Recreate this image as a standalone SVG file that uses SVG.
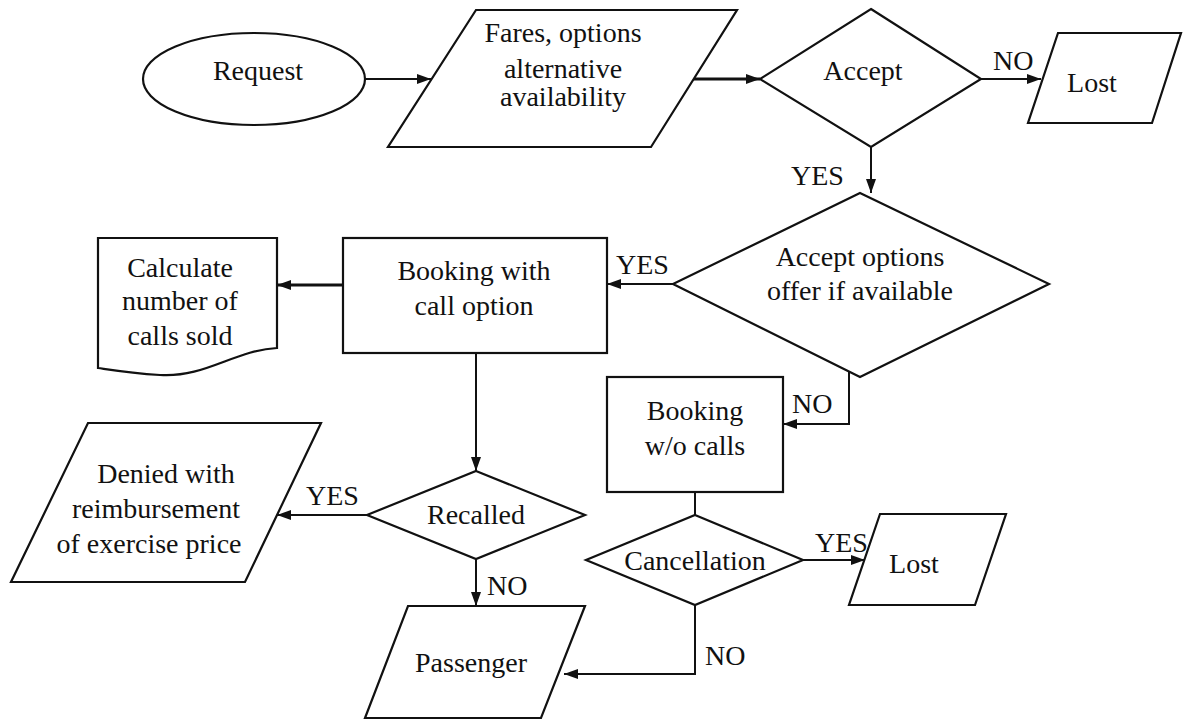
<svg xmlns="http://www.w3.org/2000/svg" width="1183" height="720" viewBox="0 0 1183 720">
<style>
.s{fill:#fff;stroke:#111;stroke-width:2.2;stroke-linejoin:miter}
.t{font-family:"Liberation Serif","Times New Roman",serif;font-size:28px;fill:#111;text-anchor:middle}
.l{font-family:"Liberation Serif","Times New Roman",serif;font-size:28px;fill:#111}
.c{fill:none;stroke:#111;stroke-width:2}
.k{fill:none;stroke:#111;stroke-width:3.2}
</style>
<defs>
<marker id="ah" viewBox="0 0 14 10" refX="14" refY="5" markerWidth="14" markerHeight="10" markerUnits="userSpaceOnUse" orient="auto"><path d="M0,0 L14,5 L0,10 Z" fill="#111"/></marker>
</defs>
<rect width="1183" height="720" fill="#fff"/>
<g id="connectors">
<path class="c" d="M365,79 H431" marker-end="url(#ah)"/>
<path class="k" d="M693,79 H760" marker-end="url(#ah)"/>
<path class="c" d="M981,79 H1041" marker-end="url(#ah)"/>
<path class="c" d="M871,147 V193" marker-end="url(#ah)"/>
<path class="c" d="M673,284 H607" marker-end="url(#ah)"/>
<path class="c" d="M849,372 V424 H783" marker-end="url(#ah)"/>
<path class="k" d="M343,285 H277" marker-end="url(#ah)"/>
<path class="c" d="M476,353 V471" marker-end="url(#ah)"/>
<path class="c" d="M367,515 H277" marker-end="url(#ah)"/>
<path class="c" d="M476,559 V606" marker-end="url(#ah)"/>
<path class="c" d="M695,492 V515"/>
<path class="c" d="M803,560 H865" marker-end="url(#ah)"/>
<path class="c" d="M695,605 V674 H564" marker-end="url(#ah)"/>
<text class="l" x="993" y="70">NO</text>
<text class="l" x="791" y="185">YES</text>
<text class="l" x="616" y="274">YES</text>
<text class="l" x="792" y="413">NO</text>
<text class="l" x="306" y="505">YES</text>
<text class="l" x="487" y="595">NO</text>
<text class="l" x="815" y="552">YES</text>
<text class="l" x="705" y="665">NO</text>
</g>
<g id="request">
<ellipse class="s" cx="254" cy="79" rx="111" ry="46"/>
<text class="t" x="258" y="80">Request</text>
</g>
<g id="fares">
<polygon class="s" points="476,10 737,10 651,147 388,147"/>
<text class="t" x="563" y="42">Fares, options</text>
<text class="t" x="563" y="78">alternative</text>
<text class="t" x="563" y="106">availability</text>
</g>
<g id="accept">
<polygon class="s" points="871,9 981,79 871,147 760,79"/>
<text class="t" x="863" y="80">Accept</text>
</g>
<g id="lost1">
<polygon class="s" points="1058,33 1181,33 1152,123 1028,123"/>
<text class="t" x="1092" y="92">Lost</text>
</g>
<g id="accept-options">
<polygon class="s" points="860,193 1049,284 860,377 673,284"/>
<text class="t" x="860" y="266">Accept options</text>
<text class="t" x="860" y="300">offer if available</text>
</g>
<g id="booking-call">
<rect class="s" x="343" y="238" width="264" height="115"/>
<text class="t" x="474" y="280">Booking with</text>
<text class="t" x="474" y="315">call option</text>
</g>
<g id="calculate">
<path class="s" d="M98,238 H277 V348 C235,350 205,378 160,375 C130,373 112,370 98,368 Z"/>
<text class="t" x="180" y="277">Calculate</text>
<text class="t" x="180" y="310">number of</text>
<text class="t" x="180" y="345">calls sold</text>
</g>
<g id="booking-wo">
<rect class="s" x="607" y="377" width="176" height="115"/>
<text class="t" x="695" y="420">Booking</text>
<text class="t" x="695" y="455">w/o calls</text>
</g>
<g id="recalled">
<polygon class="s" points="476,471 585,515 476,559 367,515"/>
<text class="t" x="476" y="524">Recalled</text>
</g>
<g id="denied">
<polygon class="s" points="88,423 321,423 245,582 11,582"/>
<text class="t" x="166" y="483">Denied with</text>
<text class="t" x="156" y="518">reimbursement</text>
<text class="t" x="149" y="553">of exercise price</text>
</g>
<g id="cancellation">
<polygon class="s" points="695,515 803,560 695,605 586,560"/>
<text class="t" x="695" y="570">Cancellation</text>
</g>
<g id="lost2">
<polygon class="s" points="880,514 1006,514 975,605 849,605"/>
<text class="t" x="914" y="573">Lost</text>
</g>
<g id="passenger">
<polygon class="s" points="408,606 585,606 541,718 365,718"/>
<text class="t" x="471" y="672">Passenger</text>
</g>
</svg>
